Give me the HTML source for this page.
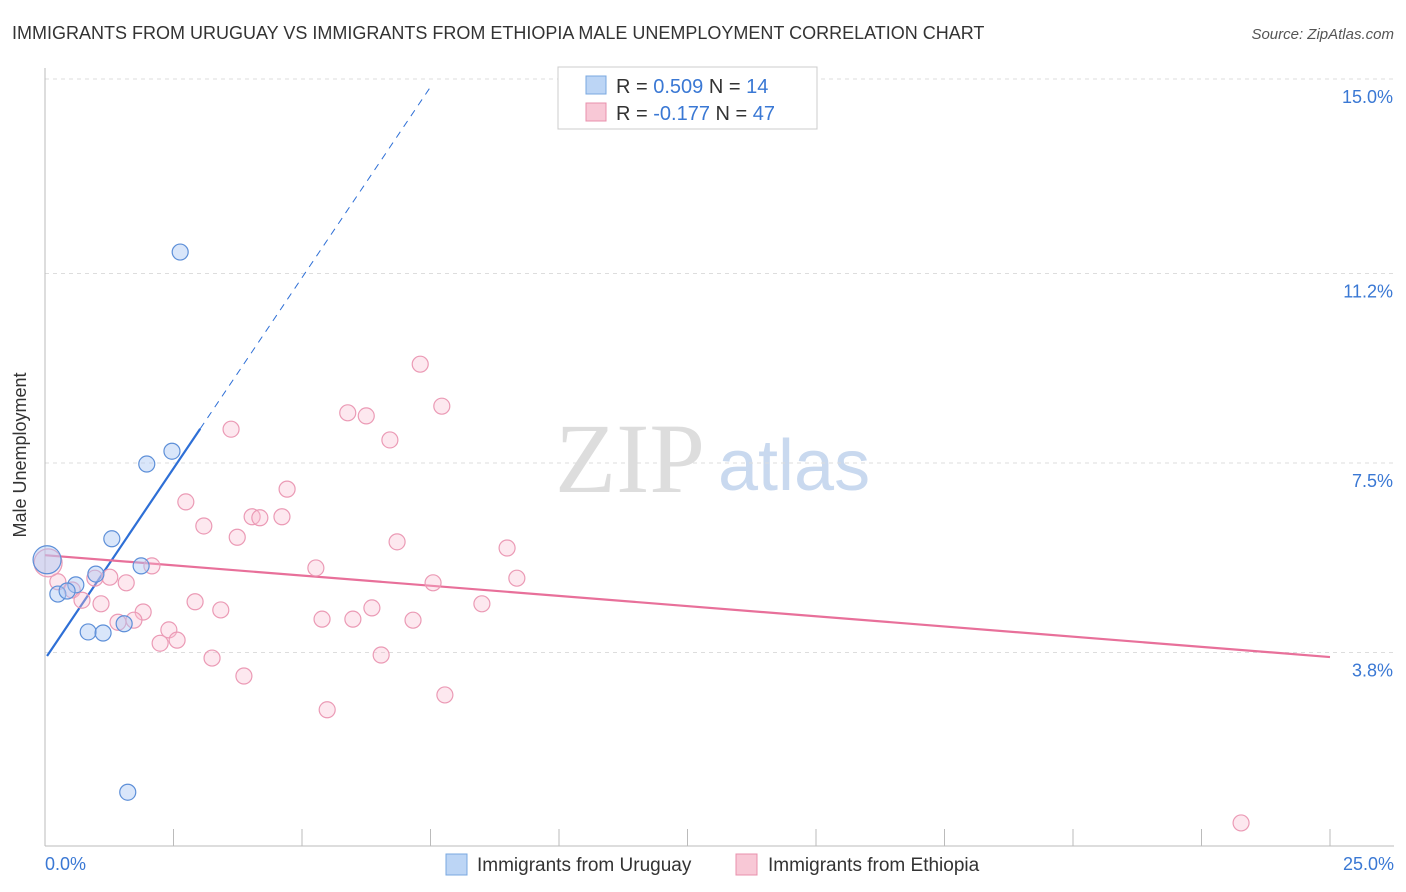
<!DOCTYPE html>
<html><head><meta charset="utf-8">
<style>
body{margin:0;background:#fff;font-family:"Liberation Sans",sans-serif;}
#wrap{position:relative;width:1406px;height:892px;overflow:hidden;}
</style></head>
<body>
<div id="wrap">
<svg id="chart" width="1406" height="892">
<text x="12" y="39" font-size="18" fill="#333">IMMIGRANTS FROM URUGUAY VS IMMIGRANTS FROM ETHIOPIA MALE UNEMPLOYMENT CORRELATION CHART</text>
<text x="1394" y="39" font-size="15" fill="#555" text-anchor="end" font-style="italic">Source: ZipAtlas.com</text>
<text x="26" y="455" font-size="18" fill="#333" text-anchor="middle" transform="rotate(-90 26 455)">Male Unemployment</text>
<text x="555" y="492" font-size="100" fill="#ddd" font-family="Liberation Serif">ZIP</text>
<text x="718" y="490" font-size="72" fill="#c9d9ef">atlas</text>
<g id="grid"></g><g id="axes"></g><g id="lines"></g><g id="points"></g>
<g>
<rect x="558" y="67" width="259" height="62" fill="#fff" stroke="#ccc"/>
<rect x="586" y="76" width="20" height="18" fill="#bcd5f5" stroke="#7aa8e0"/>
<text x="616" y="93" font-size="20" fill="#333">R = <tspan fill="#3a78d4">0.509</tspan>   N = <tspan fill="#3a78d4">14</tspan></text>
<rect x="586" y="103" width="20" height="18" fill="#f8c8d6" stroke="#e890ac"/>
<text x="616" y="120" font-size="20" fill="#333">R = <tspan fill="#3a78d4">-0.177</tspan>   N = <tspan fill="#3a78d4">47</tspan></text>
</g>
<g>
<rect x="446" y="854" width="21" height="21" fill="#bcd5f5" stroke="#7aa8e0"/>
<text x="477" y="871" font-size="19" fill="#333">Immigrants from Uruguay</text>
<rect x="736" y="854" width="21" height="21" fill="#f8c8d6" stroke="#e890ac"/>
<text x="768" y="871" font-size="19" fill="#333">Immigrants from Ethiopia</text>
</g>
</svg></div>
<script>
const yTicks=[3.8,7.5,11.2,15.0];
const yTickLabels=["3.8%","7.5%","11.2%","15.0%"];
const xTickCount=10;
const uruguayX=[2.63,2.47,1.98,1.30,1.87,0.99,0.60,0.25,0.43,0.84,1.13,1.54,1.61,0.04];
const uruguayY=[11.62,7.73,7.48,6.02,5.49,5.33,5.12,4.94,5.0,4.20,4.18,4.36,1.07,5.61];
const ethiopiaX=[7.30,7.72,5.89,6.25,6.71,3.62,4.71,2.74,3.09,4.03,4.18,4.61,3.74,6.85,8.99,5.27,9.18,7.55,2.08,1.26,1.58,0.97,0.25,0.53,0.72,1.09,2.92,1.91,3.42,6.36,8.50,1.73,1.42,5.39,5.99,7.16,2.41,2.57,2.24,3.25,6.54,3.87,7.78,5.49,23.27,0.06];
const ethiopiaY=[9.43,8.61,8.48,8.42,7.95,8.16,6.99,6.74,6.27,6.45,6.43,6.45,6.05,5.96,5.84,5.45,5.25,5.16,5.49,5.27,5.16,5.25,5.18,5.02,4.82,4.75,4.79,4.59,4.63,4.67,4.75,4.43,4.39,4.45,4.45,4.43,4.24,4.04,3.98,3.69,3.75,3.34,2.97,2.68,0.47,5.55];
const uruguayTrend=[3.67,1.49];
const ethiopiaTrend=[5.70,-0.0796];
const X=v=>45+v*51.4, Y=v=>79+(15-v)*51.2;
const NS="http://www.w3.org/2000/svg";
function mk(tag,attrs,parent){const e=document.createElementNS(NS,tag);for(const k in attrs)e.setAttribute(k,attrs[k]);document.getElementById(parent).appendChild(e);return e;}
yTicks.forEach((t,i)=>{
 const l=mk('line',{x1:45,x2:1394,y1:Y(t),y2:Y(t),stroke:'#ddd','stroke-dasharray':'4,4'},'grid');
 
 
 const tx=mk('text',{x:1393,y:Y(t)+24,'font-size':18,fill:'#3a78d4','text-anchor':'end'},'grid');
 tx.textContent=yTickLabels[i];
 
 
});
const ax=mk('line',{x1:45,x2:45,y1:68,y2:846,stroke:'#bbb'},'axes');


const bx=mk('line',{x1:45,x2:1394,y1:846,y2:846,stroke:'#bbb'},'axes');


for(let i=0;i<=xTickCount;i++){
 const v=i*25/xTickCount;
 const t=mk('line',{x1:X(v),x2:X(v),y1:829,y2:846,stroke:'#bbb'},'axes');
 
 
}
const x0=mk('text',{x:45,y:870,'font-size':18,fill:'#3a78d4'},'axes');x0.textContent='0.0%';


const x1=mk('text',{x:1394,y:870,'font-size':18,fill:'#3a78d4','text-anchor':'end'},'axes');x1.textContent='25.0%';


// trend lines
const f=(tr,v)=>tr[0]+tr[1]*v;
const ul=mk('line',{x1:X(0.04),y1:Y(f(uruguayTrend,0.04)),x2:X(3.02),y2:Y(f(uruguayTrend,3.02)),stroke:'#2e6fd6','stroke-width':2.2},'lines');


const ud=mk('line',{x1:X(3.02),y1:Y(f(uruguayTrend,3.02)),x2:X(7.52),y2:Y(f(uruguayTrend,7.52)),stroke:'#2e6fd6','stroke-width':1,'stroke-dasharray':'7,6'},'lines');


const el=mk('line',{x1:X(0),y1:Y(f(ethiopiaTrend,0)),x2:X(25),y2:Y(f(ethiopiaTrend,25)),stroke:'#e8709a','stroke-width':2.2},'lines');


ethiopiaX.forEach((v,i)=>{
 const big=i===ethiopiaX.length-1;
 const c=mk('circle',{cx:X(v),cy:Y(ethiopiaY[i]),r:big?14:8,fill:'rgba(248,190,208,0.35)',stroke:'#eb9ab5','stroke-width':1.2},'points');
 
 
});
uruguayX.forEach((v,i)=>{
 const big=i===uruguayX.length-1;
 const c=mk('circle',{cx:X(v),cy:Y(uruguayY[i]),r:big?14:8,fill:'rgba(170,200,245,0.45)',stroke:'#5d8fd8','stroke-width':1.2},'points');
 
 
});
</script>
</body></html>
